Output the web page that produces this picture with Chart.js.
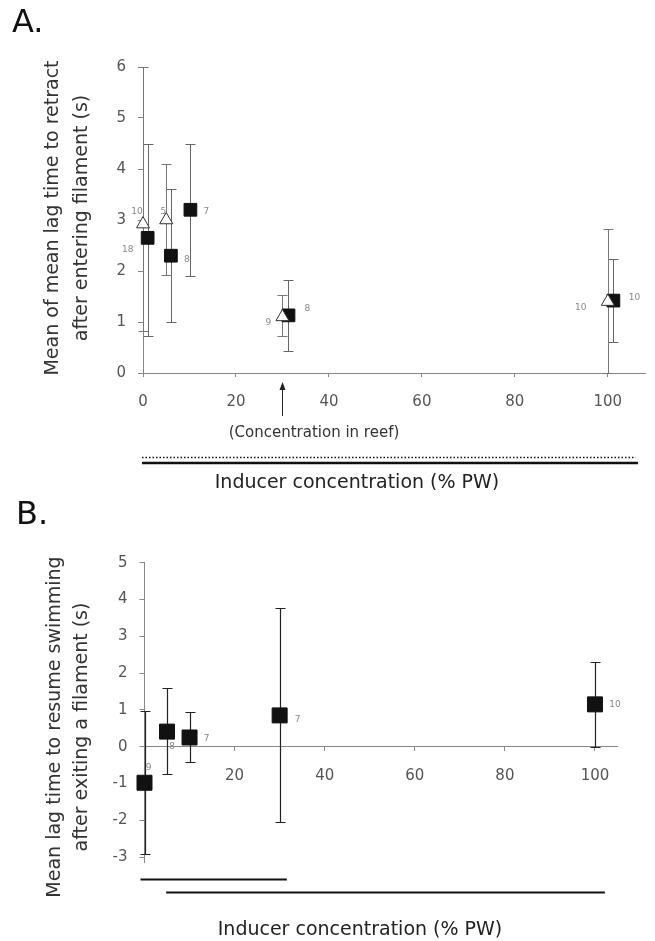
<!DOCTYPE html>
<html>
<head>
<meta charset="utf-8">
<script src="https://cdn.jsdelivr.net/npm/chart.js@4.4.1/dist/chart.umd.min.js"></script>
<style>
  html, body { margin: 0; padding: 0; background: #fff; }
  #wrap { position: relative; width: 655px; height: 941px; }
  canvas { position: absolute; left: 0; }
  #chartA { top: 0; }
  #chartB { top: 490px; }
</style>
</head>
<body>
<div id="wrap">
  <canvas id="chartA" width="655" height="490"></canvas>
  <canvas id="chartB" width="655" height="451"></canvas>
</div>
<script>
// ---- Panel A: lag time to retract after entering filament ----
// open triangles
const aTriX = [0, 5, 30, 100];
const aTriY = [2.92, 3.0, 1.1, 1.4];
const aTriLow = [0.82, 1.92, 0.72, 0];
const aTriHigh = [6.0, 4.1, 1.52, 2.82];
const aTriN = [10, 5, 9, 10];
// filled squares
const aSqX = [1, 6, 10.2, 31.3, 101.2];
const aSqY = [2.65, 2.3, 3.2, 1.13, 1.42];
const aSqLow = [0.72, 1.0, 1.9, 0.43, 0.61];
const aSqHigh = [4.5, 3.6, 4.5, 1.82, 2.24];
const aSqN = [18, 8, 7, 8, 10];

const aXTicks = [0, 20, 40, 60, 80, 100];
const aYTicks = [0, 1, 2, 3, 4, 5, 6];
const reefConc = 30;
// concentration ranges drawn under the axis (dotted, solid)
const aRangeDotted = [0, 106];
const aRangeSolid = [0, 106.5];

// ---- Panel B: lag time to resume swimming after exiting a filament ----
const bSqX = [0, 5, 10, 30, 100];
const bSqY = [-0.98, 0.41, 0.25, 0.85, 1.15];
const bSqLow = [-2.92, -0.74, -0.41, -2.04, 0];
const bSqHigh = [0.98, 1.6, 0.94, 3.78, 2.29];
const bSqN = [9, 8, 7, 7, 10];

const bXTicks = [20, 40, 60, 80, 100];
const bYTicks = [-3, -2, -1, 0, 1, 2, 3, 4, 5];
const bRangeLow = [0, 31.6];
const bRangeHigh = [4.8, 102.2];

// label offsets (px) for the n values next to each marker
const aTriOff = [[-6, -12], [-3, -8], [-14, 6], [-27, 6]];
const aSqOff = [[-20, 12], [16, 4], [16, 2], [19, -7], [21, -3]];
const bSqOff = [[4, -15], [5, 15], [17, 1], [18, 4], [20, 0]];

Chart.defaults.font.family = "'DejaVu Sans', sans-serif";
Chart.defaults.color = '#444';

function pts(xs, ys) {
  return xs.map((x, i) => ({ x: x, y: ys[i] }));
}

function drawBars(chart, xs, low, high, color, width) {
  const { ctx, scales: { x, y } } = chart;
  const cap = 5;
  ctx.save();
  ctx.strokeStyle = color;
  ctx.lineWidth = width;
  xs.forEach((xv, i) => {
    const px = Math.round(x.getPixelForValue(xv)) + 0.5;
    const top = Math.round(y.getPixelForValue(high[i])) + 0.5;
    const bot = Math.round(y.getPixelForValue(low[i])) + 0.5;
    ctx.beginPath();
    ctx.moveTo(px, top); ctx.lineTo(px, bot);
    ctx.moveTo(px - cap, top); ctx.lineTo(px + cap, top);
    ctx.moveTo(px - cap, bot); ctx.lineTo(px + cap, bot);
    ctx.stroke();
  });
  ctx.restore();
}

function drawCounts(chart, xs, ys, ns, offs) {
  const { ctx, scales: { x, y } } = chart;
  ctx.save();
  ctx.font = "9px 'DejaVu Sans'";
  ctx.fillStyle = '#888';
  ctx.textAlign = 'center';
  ctx.textBaseline = 'middle';
  xs.forEach((xv, i) => {
    ctx.fillText(String(ns[i]), x.getPixelForValue(xv) + offs[i][0], y.getPixelForValue(ys[i]) + offs[i][1]);
  });
  ctx.restore();
}

function text(ctx, str, px, py, size, align, color) {
  ctx.save();
  ctx.font = size + "px 'DejaVu Sans'";
  ctx.fillStyle = color || '#222';
  ctx.textAlign = align || 'center';
  ctx.textBaseline = 'middle';
  ctx.fillText(str, px, py);
  ctx.restore();
}

function vTitle(ctx, lines, px, py, gap) {
  ctx.save();
  ctx.translate(px, py);
  ctx.rotate(-Math.PI / 2);
  ctx.font = "19px 'DejaVu Sans'";
  ctx.fillStyle = '#333';
  ctx.textAlign = 'center';
  ctx.textBaseline = 'middle';
  lines.forEach((l, i) => ctx.fillText(l, 0, i * gap));
  ctx.restore();
}

function hLine(ctx, x0, x1, py, width, dash) {
  ctx.save();
  ctx.strokeStyle = '#111';
  ctx.lineWidth = width;
  ctx.setLineDash(dash || []);
  ctx.beginPath();
  ctx.moveTo(x0, py); ctx.lineTo(x1, py);
  ctx.stroke();
  ctx.restore();
}

function scaleOpts(ticks, min, max, fit) {
  return {
    type: 'linear',
    min: min,
    max: max,
    afterBuildTicks: s => { s.ticks = ticks.map(v => ({ value: v })); },
    afterFit: fit,
    grid: { display: true, drawOnChartArea: false, drawTicks: true, tickLength: 5, color: '#888' },
    border: { display: true, color: '#888', width: 1 },
    ticks: { font: { size: 15 }, color: '#555', padding: 12 }
  };
}

// ---- chart A ----
const extrasA = {
  id: 'extrasA',
  beforeDatasetsDraw(chart) {
    drawBars(chart, aSqX, aSqLow, aSqHigh, '#666', 1);
    drawBars(chart, aTriX, aTriLow, aTriHigh, '#777', 1);
  },
  afterDraw(chart) {
    const { ctx, scales: { x } } = chart;
    drawCounts(chart, aTriX, aTriY, aTriN, aTriOff);
    drawCounts(chart, aSqX, aSqY, aSqN, aSqOff);
    text(ctx, 'A.', 12, 24, 32, 'left', '#111');
    vTitle(ctx, ['Mean of mean lag time to retract', 'after entering filament (s)'], 53, 218, 29);

    // arrow marking concentration in reef
    const ax = Math.round(x.getPixelForValue(reefConc)) + 0.5;
    ctx.save();
    ctx.strokeStyle = '#222';
    ctx.fillStyle = '#222';
    ctx.lineWidth = 1;
    ctx.beginPath();
    ctx.moveTo(ax, 416); ctx.lineTo(ax, 388);
    ctx.stroke();
    ctx.beginPath();
    ctx.moveTo(ax, 382); ctx.lineTo(ax - 3, 390); ctx.lineTo(ax + 3, 390);
    ctx.closePath();
    ctx.fill();
    ctx.restore();
    text(ctx, '(Concentration in reef)', 314, 433, 15, 'center', '#333');

    hLine(ctx, x.getPixelForValue(aRangeDotted[0]) - 1, x.getPixelForValue(aRangeDotted[1]), 457.5, 1.5, [1.5, 2]);
    hLine(ctx, x.getPixelForValue(aRangeSolid[0]) - 1, x.getPixelForValue(aRangeSolid[1]), 463, 2.5);
    text(ctx, 'Inducer concentration (% PW)', 357, 483, 19, 'center', '#222');
  }
};

const xA = scaleOpts(aXTicks, 0, 108, s => { s.height = 40; });
xA.ticks.padding = 16;
xA.grid.tickLength = 4;

new Chart(document.getElementById('chartA'), {
  type: 'scatter',
  data: {
    datasets: [
      {
        label: 'triangles',
        data: pts(aTriX, aTriY),
        pointStyle: 'triangle',
        pointRadius: 7.5,
        backgroundColor: '#fff',
        borderColor: '#333',
        borderWidth: 1,
        clip: false
      },
      {
        label: 'squares',
        data: pts(aSqX, aSqY),
        pointStyle: 'rect',
        pointRadius: 9,
        backgroundColor: '#111',
        borderColor: '#111',
        borderWidth: 1,
        clip: false
      }
    ]
  },
  options: {
    responsive: false,
    animation: false,
    layout: { padding: { left: 0, right: 7, top: 67, bottom: 77 } },
    scales: {
      x: xA,
      y: scaleOpts(aYTicks, 0, 6, s => { s.width = 143; })
    },
    plugins: { legend: { display: false }, tooltip: { enabled: false } }
  },
  plugins: [extrasA]
});

// ---- chart B ----
const extrasB = {
  id: 'extrasB',
  beforeDatasetsDraw(chart) {
    drawBars(chart, bSqX, bSqLow, bSqHigh, '#222', 1.2);
  },
  afterDraw(chart) {
    const { ctx, scales: { x } } = chart;
    drawCounts(chart, bSqX, bSqY, bSqN, bSqOff);
    text(ctx, 'B.', 16, 26, 32, 'left', '#111');
    vTitle(ctx, ['Mean lag time to resume swimming', 'after exiting a filament (s)'], 55, 237, 27);
    hLine(ctx, x.getPixelForValue(bRangeLow[0]) - 4, x.getPixelForValue(bRangeLow[1]), 389.5, 2);
    hLine(ctx, x.getPixelForValue(bRangeHigh[0]), x.getPixelForValue(bRangeHigh[1]), 402.5, 2);
    text(ctx, 'Inducer concentration (% PW)', 360, 440, 19, 'center', '#222');
  }
};

const xB = scaleOpts(bXTicks, 0, 105, s => { s.height = 0; });
xB.position = { y: 0 };
xB.ticks.padding = 16;
xB.grid.tickLength = 4;

new Chart(document.getElementById('chartB'), {
  type: 'scatter',
  data: {
    datasets: [
      {
        label: 'squares',
        data: pts(bSqX, bSqY),
        pointStyle: 'rect',
        pointRadius: 10.6,
        backgroundColor: '#111',
        borderColor: '#111',
        borderWidth: 1,
        clip: false
      }
    ]
  },
  options: {
    responsive: false,
    animation: false,
    layout: { padding: { left: 0, right: 37.5, top: 72.7, bottom: 78.4 } },
    scales: {
      x: xB,
      y: scaleOpts(bYTicks, -3.15, 5, s => { s.width = 144.5; })
    },
    plugins: { legend: { display: false }, tooltip: { enabled: false } }
  },
  plugins: [extrasB]
});
</script>
</body>
</html>
